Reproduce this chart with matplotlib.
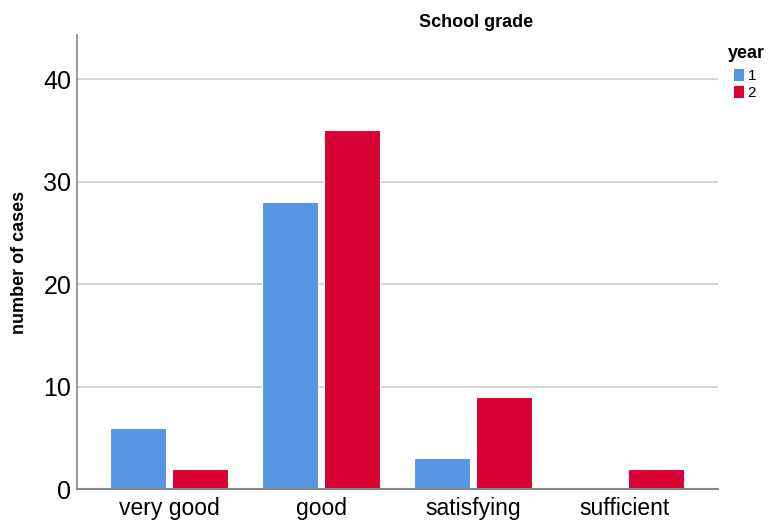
import numpy as np
import matplotlib
matplotlib.use("Agg")
import matplotlib.pyplot as plt
from matplotlib.patches import Patch

plt.rcParams['font.family'] = ['Liberation Sans', 'DejaVu Sans']

# School grade counts per year
grades = ['very good', 'good', 'satisfying', 'sufficient']
year_labels = ['1', '2']
year1 = [6, 28, 3, 0]
year2 = [2, 35, 9, 2]
yticks = [0, 10, 20, 30, 40]

blue = '#5596e3'
red = '#d60032'

fig = plt.figure(figsize=(7.69, 5.22), dpi=100)
ax = fig.add_axes([0.1001, 0.0632, 0.8336, 0.8698])

x = np.arange(len(grades))
width = 0.37
offset = 0.203
ax.bar(x - offset, year1, width, color=blue, edgecolor='white', linewidth=0.8)
ax.bar(x + offset, year2, width, color=red, edgecolor='white', linewidth=0.8)

ax.set_xlim(-0.607, 3.614)
ax.set_ylim(0, 44.3)
ax.set_yticks(yticks)
ax.set_xticks(x)
ax.set_xticklabels(grades, fontsize=16.5)
ax.tick_params(axis='y', labelsize=18, length=0, pad=4, colors='black')
ax.tick_params(axis='x', length=0, pad=6)

ax.yaxis.grid(True, color='#cccccc', linewidth=1.2)
ax.set_axisbelow(True)
for side in ('top', 'right'):
    ax.spines[side].set_visible(False)
ax.spines['left'].set_color('#888888')
ax.spines['bottom'].set_color('#888888')
ax.spines['left'].set_linewidth(1.2)
ax.spines['bottom'].set_linewidth(1.5)

ax.set_ylabel('number of cases', fontsize=13, fontweight='bold', labelpad=11)
fig.text(0.619, 0.957, 'School grade', fontsize=13, fontweight='bold',
         ha='center', va='center')

# Legend in the right margin
fig.text(0.946, 0.897, 'year', fontsize=13, fontweight='bold', ha='left', va='center')
handles = [Patch(facecolor=blue, edgecolor='none'), Patch(facecolor=red, edgecolor='none')]
fig.legend(handles, year_labels, loc='upper left', bbox_to_anchor=(0.954, 0.868),
           frameon=False, fontsize=11, handlelength=0.7, handleheight=0.8,
           handletextpad=0.2, labelspacing=0.2, borderpad=0, borderaxespad=0)

fig.savefig('out.png', dpi=100)
